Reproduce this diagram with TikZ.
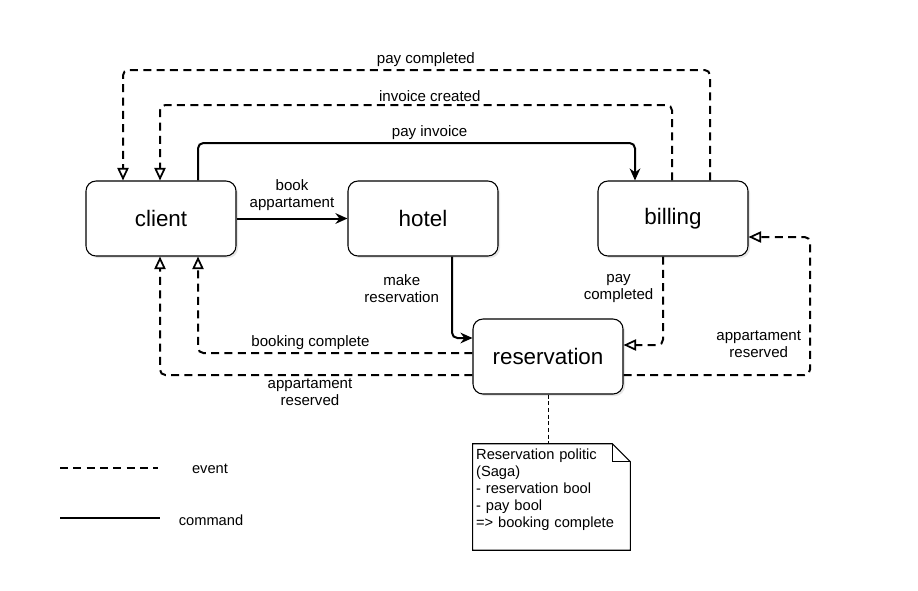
\documentclass[tikz,border=0pt]{standalone}
\usepackage{fontspec}
\setmainfont{Liberation Sans}
\usetikzlibrary{arrows.meta,shadows}

\begin{document}
\begin{tikzpicture}[x=0.75pt,y=-0.75pt,
    box/.style={draw,line width=0.8pt,rounded corners=7.5pt,fill=white,minimum width=112.5pt,minimum height=56.25pt,font=\fontsize{16.8}{20}\selectfont,drop shadow={opacity=0.2,shadow xshift=1.5pt,shadow yshift=-1.5pt}},
    event/.style={line width=1.5pt,dash pattern=on 6pt off 4pt,rounded corners=4pt,-{Triangle[open,length=9.5pt,width=8.5pt,line width=1.3pt]}},
    command/.style={line width=1.5pt,rounded corners=4pt,-{Stealth[length=9pt,width=8pt]}},
    lbl/.style={font=\fontsize{11.3}{12.8}\selectfont,align=center,inner sep=2pt},
    notebox/.style={minimum width=117.75pt,minimum height=79.5pt,text width=113pt,inner sep=2.5pt,align=left,font=\fontsize{11}{12.75}\selectfont}]
        \useasboundingbox (0,0) rectangle (918,590);
        \draw (161,218.5) node (client) [box] {client};
        \draw (423,218.5) node (hotel) [box] {hotel};
        \draw (673,218.5) node (billing) [box] {billing};
        \draw (548,356.5) node (reservation) [box] {reservation};
        % loops over the top
        \coordinate (pcR) at (710,70);
        \coordinate (pcL) at (123,70);
        \draw[event] (billing.north -| pcR) -- (pcR) -- node[lbl,above,pos=0.484] {pay completed} (pcL) -- (client.north -| pcL);
        \coordinate (icR) at (672,105);
        \coordinate (icL) at (160,105);
        \draw[event] (billing.north -| icR) -- (icR) -- node[lbl,above,pos=0.473] {invoice created} (icL) -- (client.north -| icL);
        \coordinate (piL) at (198,143);
        \coordinate (piR) at (635,143);
        \draw[command] (client.north -| piL) -- (piL) -- node[lbl,above,pos=0.53] {pay invoice} (piR) -- (billing.north -| piR);
        \draw[command] (client) -- node[lbl,above=3pt] {book\\appartament} (hotel);
        % down to reservation
        \coordinate (mr) at (452,338);
        \draw[command] (hotel.south -| mr) -- node[lbl,left=7pt,pos=0.39] {make\\reservation} (mr) -- (reservation.west |- mr);
        \coordinate (pc2) at (663,345);
        \draw[event] (billing.south -| pc2) -- node[lbl,left=4.5pt,pos=0.36] {pay\\completed} (pc2) -- (reservation.east |- pc2);
        \coordinate (arB) at (810,375);
        \coordinate (arT) at (810,237);
        \draw[event] (reservation.east |- arB) -- (arB) -- node[lbl,left=4pt,pos=0.22] {appartament\\reserved} (arT) -- (billing.east |- arT);
        \coordinate (bc) at (198,353);
        \draw[event] (reservation.west |- bc) -- node[lbl,above,pos=0.59] {booking complete} (bc) -- (client.south -| bc);
        \coordinate (ar2) at (160,375);
        \draw[event] (reservation.west |- ar2) -- node[lbl,below,pos=0.52] {appartament\\reserved} (ar2) -- (client.south -| ar2);
        % note
        \draw (551.5,497) node (note) [notebox] {Reservation politic\\(Saga)\\- reservation bool\\- pay bool\\=> booking complete\\\mbox{}};
        \draw[line width=0.8pt] (note.north west) -- ([xshift=-13.5pt]note.north east) -- ([yshift=-13.5pt]note.north east) -- (note.south east) -- (note.south west) -- cycle;
        \draw[line width=0.8pt] ([xshift=-13.5pt]note.north east) |- ([yshift=-13.5pt]note.north east);
        \draw[line width=0.6pt,dash pattern=on 3pt off 2pt] (reservation.south) -- (reservation.south |- note.north);
        % legend
        \coordinate (ev1) at (60,468);
        \coordinate (ev2) at (158,468);
        \draw[line width=1.5pt,dash pattern=on 6pt off 4pt] (ev1) -- (ev2);
        \draw (210,469) node (evtxt) [lbl,font=\fontsize{11}{12}\selectfont] {event};
        \coordinate (cm1) at (60,518);
        \coordinate (cm2) at (160,518);
        \draw[line width=1.5pt] (cm1) -- (cm2);
        \draw (211,520) node (cmtxt) [lbl,font=\fontsize{11}{12}\selectfont] {command};
    \end{tikzpicture}
\end{document}
